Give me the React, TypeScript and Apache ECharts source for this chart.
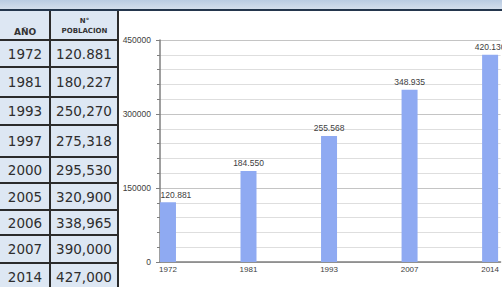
import React, { useEffect, useRef } from "react";
import * as echarts from "echarts";

// Table data (left side)
const tableYears = ["1972", "1981", "1993", "1997", "2000", "2005", "2006", "2007", "2014"];
const tablePopulation = ["120.881", "180,227", "250,270", "275,318", "295,530", "320,900", "338,965", "390,000", "427,000"];

// Chart data
const chartYears = ["1972", "1981", "1993", "2007", "2014"];
const chartValues = [120881, 184550, 255568, 348935, 420130];
const yTicks = [0, 150000, 300000, 450000];

// layout (not data)
const rowTops = [40, 67, 97, 125, 157, 183, 210, 235, 263, 291];

const fmtDots = (v: number) => String(v).replace(/\B(?=(\d{3})+(?!\d))/g, ".");

export default function App() {
  const ref = useRef<HTMLDivElement>(null);
  useEffect(() => {
    document.body.style.margin = "0";
    const chart = echarts.init(ref.current!, null, { renderer: "svg" });
    const data = chartValues.map((v, i) => {
      const item: any = { value: [i, v] };
      if (i === 0) item.label = { offset: [8, 0] };
      return item;
    });
    chart.setOption({
      animation: false,
      grid: { left: 160, right: 0, top: 40, bottom: 25, containLabel: false },
      xAxis: {
        type: "value",
        min: -0.099,
        max: 4.13,
        minInterval: 1,
        maxInterval: 1,
        splitLine: { show: false },
        axisTick: { show: false },
        axisLine: { show: true, lineStyle: { color: "#7f7f7f", width: 1.5 } },
        axisLabel: {
          fontSize: 8,
          color: "#404040",
          fontFamily: "Liberation Sans, Arial",
          margin: 3,
          showMinLabel: false,
          showMaxLabel: false,
          formatter: (v: number) => (Number.isInteger(v) && chartYears[v] ? chartYears[v] : ""),
        },
      },
      yAxis: {
        type: "value",
        min: yTicks[0],
        max: yTicks[yTicks.length - 1],
        interval: yTicks[1] - yTicks[0],
        axisLine: { show: true, onZero: false, lineStyle: { color: "#7f7f7f", width: 1.5 } },
        axisTick: { show: true, length: 4, lineStyle: { color: "#7f7f7f" } },
        minorTick: { show: true, splitNumber: 5, length: 3, lineStyle: { color: "#7f7f7f" } },
        splitLine: { show: true, lineStyle: { color: "#c4c4c4", width: 1 } },
        minorSplitLine: { show: true, lineStyle: { color: "#dedede", width: 1 } },
        axisLabel: {
          fontSize: 8.5,
          color: "#404040",
          fontFamily: "Liberation Sans, Arial",
          margin: 9,
          formatter: (v: number) => String(v),
        },
      },
      series: [
        {
          type: "bar",
          data,
          barWidth: 16,
          itemStyle: { color: "#8FAAF2" },
          label: {
            show: true,
            position: "top",
            distance: 3,
            fontSize: 8.5,
            color: "#404040",
            fontFamily: "Liberation Sans, Arial",
            formatter: (p: any) => fmtDots(p.value[1]),
          },
        },
      ],
    });
    return () => chart.dispose();
  }, []);

  const cellText: React.CSSProperties = {
    position: "absolute",
    fontFamily: "DejaVu Sans, Verdana, sans-serif",
    fontSize: 13.5,
    color: "#2e2e2e",
    display: "flex",
    alignItems: "center",
    justifyContent: "center",
  };
  const border = "#2b2b2b";

  return (
    <div style={{ position: "fixed", left: 0, top: 0, width: 502, height: 287, overflow: "hidden", background: "#fff" }}>
      <div ref={ref} style={{ position: "absolute", left: 0, top: 0, width: 502, height: 287 }} />
      {/* top strip */}
      <div
        style={{
          position: "absolute",
          left: 0,
          top: 0,
          width: 502,
          height: 9,
          background: "linear-gradient(#b9cbe2, #d3deec)",
        }}
      />
      <div style={{ position: "absolute", left: 0, top: 9, width: 502, height: 2, background: "#24364d" }} />
      {/* table */}
      <div style={{ position: "absolute", left: 0, top: 11, width: 118, height: 276, background: "#dde7f3" }} />
      <div style={{ position: "absolute", left: 49, top: 11, width: 2, height: 276, background: border }} />
      <div style={{ position: "absolute", left: 117, top: 11, width: 2, height: 276, background: border }} />
      {rowTops.map((t, i) => (
        <div key={"h" + i} style={{ position: "absolute", left: 0, top: t - 1, width: 118, height: 2, background: border }} />
      ))}
      <div
        style={{
          ...cellText,
          left: 0,
          top: 24,
          width: 50,
          height: 16,
          fontSize: 9,
          fontWeight: "bold",
          color: "#333",
        }}
      >
        AÑO
      </div>
      <div
        style={{
          ...cellText,
          left: 51,
          top: 13,
          width: 67,
          height: 26,
          fontSize: 7,
          fontWeight: "bold",
          color: "#333",
          flexDirection: "column",
          lineHeight: "10px",
        }}
      >
        <span>N°</span>
        <span>POBLACION</span>
      </div>
      {tableYears.map((y, i) => (
        <React.Fragment key={y}>
          <div style={{ ...cellText, left: 0, top: rowTops[i] + 1, width: 50, height: rowTops[i + 1] - rowTops[i] - 2 }}>
            {y}
          </div>
          <div style={{ ...cellText, left: 51, top: rowTops[i] + 1, width: 66, height: rowTops[i + 1] - rowTops[i] - 2 }}>
            {tablePopulation[i]}
          </div>
        </React.Fragment>
      ))}
    </div>
  );
}
